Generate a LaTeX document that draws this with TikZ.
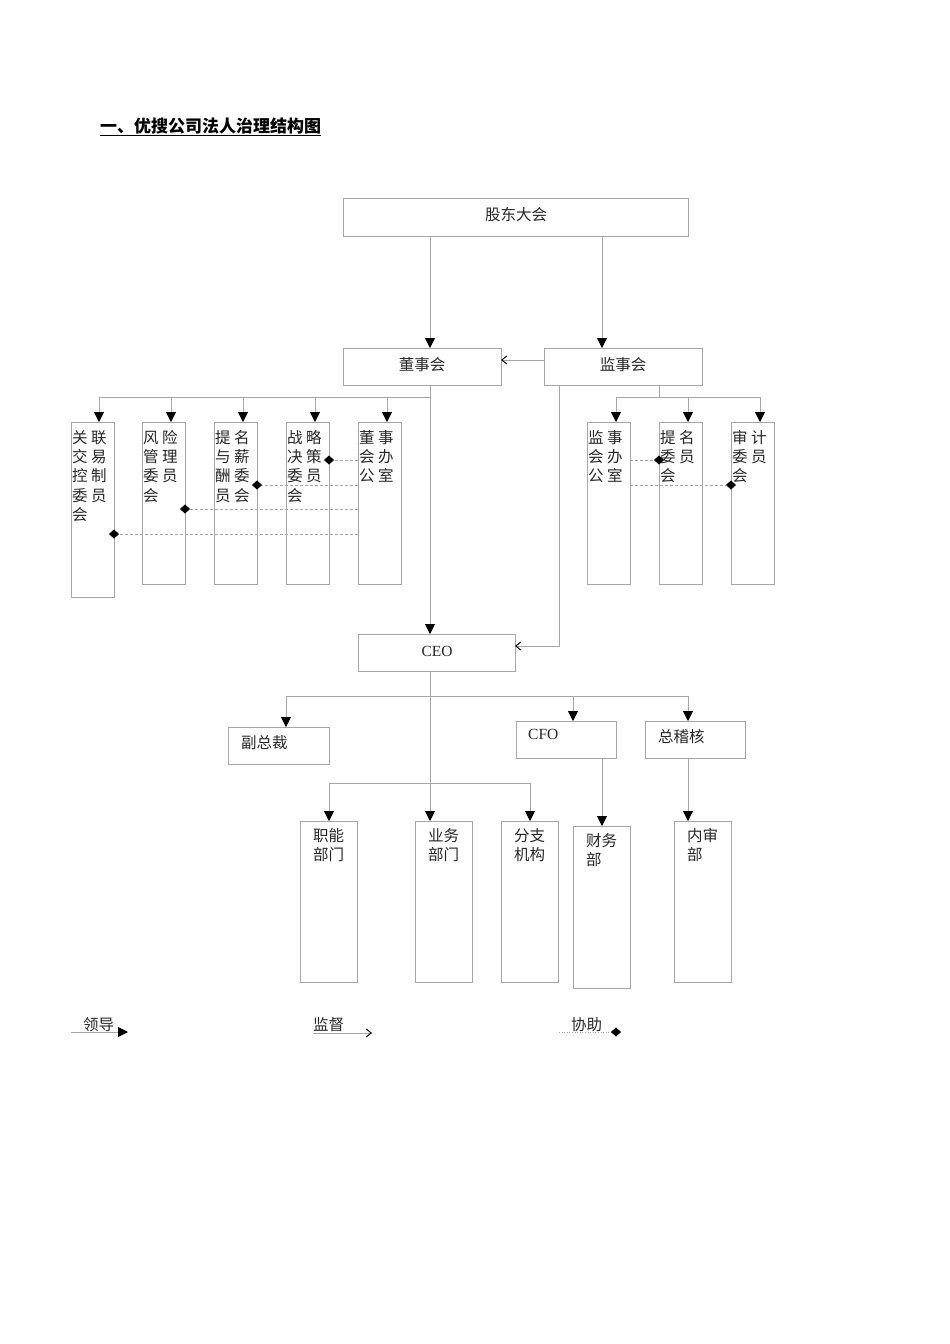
\documentclass[tikz,border=0pt]{standalone}
\usepackage{fontspec}
\setmainfont{Liberation Serif}
\newfontfamily\cjk{Noto Sans CJK SC}
\usetikzlibrary{arrows.meta}
\begin{document}
\begin{tikzpicture}[x=1pt,y=-1pt,
  box/.style={draw=black!35,line width=0.8pt},
  ln/.style={draw=black!35,line width=0.8pt},
  lead/.style={ln,-{Triangle[length=10pt,width=10pt,fill=black,color=black]}},
  sup/.style={ln,-{Straight Barb[length=5pt,width=8pt,color=black,line width=1pt]}},
  helpl/.style={draw=black!35,densely dashed,line width=0.6pt,-{Diamond[length=10pt,width=9pt,fill=black,color=black]}},
  txt/.style={font=\cjk\fontsize{15.5}{19.3}\selectfont,text=black!85,inner sep=0pt,anchor=north west,align=left}]
\useasboundingbox (0,0) rectangle (950,1344);
\node[anchor=base west,inner sep=0pt,font=\cjk\bfseries\fontsize{17}{20}\selectfont] (title) at (100,132) {\underline{一、优搜公司法人治理结构图}};
% boxes
\draw[box] (343,198) rectangle (688,236); \node[txt,anchor=center] (gd) at (516,215) {股东大会};
\draw[box] (343,348) rectangle (501,385); \node[txt,anchor=center] (ds) at (422,365) {董事会};
\draw[box] (544,348) rectangle (702,385); \node[txt,anchor=center] (js) at (623,365) {监事会};
\foreach \x/\b/\t in {71/597/{关 联\\交 易\\控 制\\委 员\\会},142/584/{风 险\\管 理\\委 员\\会},214/584/{提 名\\与 薪\\酬 委\\员 会},286/584/{战 略\\决 策\\委 员\\会},358/584/{董 事\\会 办\\公 室},587/584/{监 事\\会 办\\公 室},659/584/{提 名\\委 员\\会},731/584/{审 计\\委 员\\会}}{
  \draw[box] (\x,422) rectangle (\x+43,\b);
  \node[txt] at (\x+1,430) {\t};}
\draw[box] (358,634) rectangle (515,671); \node[txt,anchor=center] (ceo) at (437,651) {\fontspec{Liberation Serif}CEO};
\draw[box] (228,727) rectangle (329,764); \node[txt] (fz) at (241,735) {副总裁};
\draw[box] (516,721) rectangle (616,758); \node[txt] (cfo) at (528,729) {\fontspec{Liberation Serif}CFO};
\draw[box] (645,721) rectangle (745,758); \node[txt] (zj) at (658,729) {总稽核};
\foreach \x/\y/\b/\t in {300/821/982/{职能\\部门},415/821/982/{业务\\部门},501/821/982/{分支\\机构},573/826/988/{财务\\部},674/821/982/{内审\\部}}{
  \draw[box] (\x,\y) rectangle (\x+57,\b);
  \node[txt] at (\x+13,\y+7) {\t};}
% connectors
\draw[lead] (430,236) -- (430,348);
\draw[lead] (602,236) -- (602,348);
\draw[sup] (544,360) -- (501,360);
\draw[lead] (430,385) -- (430,634);
\draw[ln] (99,397) -- (430,397);
\foreach \x in {99,171,243,315,387} \draw[lead] (\x,397) -- (\x,422);
\draw[ln] (659,385) -- (659,397); \draw[ln] (616,397) -- (760,397);
\foreach \x in {616,688,760} \draw[lead] (\x,397) -- (\x,422);
\draw[sup] (559,385) -- (559,646) -- (515,646);
\draw[ln] (286,696) -- (688,696);
\foreach \x/\y in {286/727,573/721,688/721} \draw[lead] (\x,696) -- (\x,\y);
\draw[ln] (430,671) -- (430,783); \draw[ln] (329,783) -- (530,783);
\foreach \x in {329,430,530} \draw[lead] (\x,783) -- (\x,821);
\draw[lead] (602,758) -- (602,826);
\draw[lead] (688,758) -- (688,821);
% help
\draw[helpl] (358,460) -- (324,460);
\draw[helpl] (358,485) -- (252,485);
\draw[helpl] (358,509) -- (180,509);
\draw[helpl] (358,534) -- (109,534);
\draw[helpl] (630,460) -- (664,460);
\draw[helpl] (630,485) -- (736,485);
% legend
\node[txt,anchor=base west] (l1) at (83,1030) {领导};
\draw[lead] (71,1032) -- (128,1032);
\node[txt,anchor=base west] (l2) at (313,1030) {监督};
\draw[sup] (313,1033) -- (372,1033);
\node[txt,anchor=base west] (l3) at (571,1030) {协助};
\draw[helpl,dotted] (559,1032) -- (621,1032);
\end{tikzpicture}
\end{document}
